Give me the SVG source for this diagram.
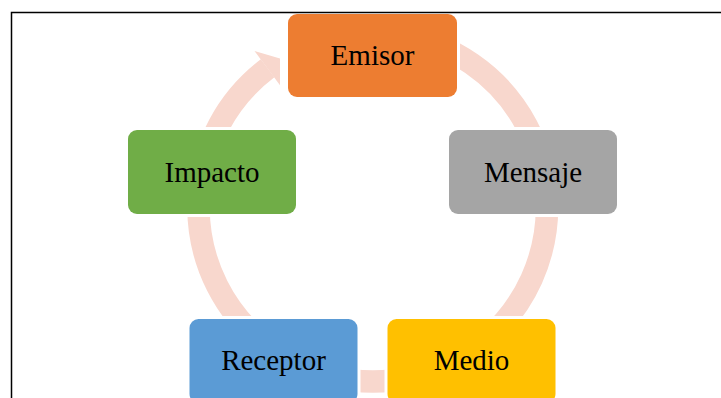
<svg xmlns="http://www.w3.org/2000/svg" width="721" height="398" viewBox="0 0 721 398">
  <style>
    .node rect { stroke: #ffffff; stroke-width: 6; paint-order: stroke; }
    .node text { font-family: "Liberation Serif", "Times New Roman", serif; font-size: 29px; fill: #000000; text-anchor: middle; }
    .ring { fill: none; stroke: #F8D7CD; stroke-width: 22.5; }
  </style>
  <rect x="0" y="0" width="721" height="398" fill="#ffffff"/>
  <g id="connectors">
    <path class="ring" d="M 402.8 35.6 A 174.25 174.25 0 1 1 267.6 68.3"/>
    <polygon points="254.5,51 280,58.5 280,85.3" fill="#F8D7CD"/>
  </g>
  <g id="node-emisor" class="node">
    <rect x="288" y="14" width="169" height="83" rx="9" fill="#ED7D31"/>
    <text x="372.5" y="65">Emisor</text>
  </g>
  <g id="node-mensaje" class="node">
    <rect x="449" y="130" width="168" height="84" rx="9" fill="#A5A5A5"/>
    <text x="533" y="181.5">Mensaje</text>
  </g>
  <g id="node-medio" class="node">
    <rect x="387.5" y="319" width="168" height="84" rx="9" fill="#FFC000"/>
    <text x="471.5" y="370">Medio</text>
  </g>
  <g id="node-receptor" class="node">
    <rect x="189.5" y="319" width="168" height="84" rx="9" fill="#5B9BD5"/>
    <text x="273.5" y="370">Receptor</text>
  </g>
  <g id="node-impacto" class="node">
    <rect x="128" y="130" width="168" height="84" rx="9" fill="#70AD47"/>
    <text x="212" y="181.5">Impacto</text>
  </g>
  <path d="M 11.5 398 V 12.5 H 721" fill="none" stroke="#000000" stroke-width="1.5"/>
</svg>
